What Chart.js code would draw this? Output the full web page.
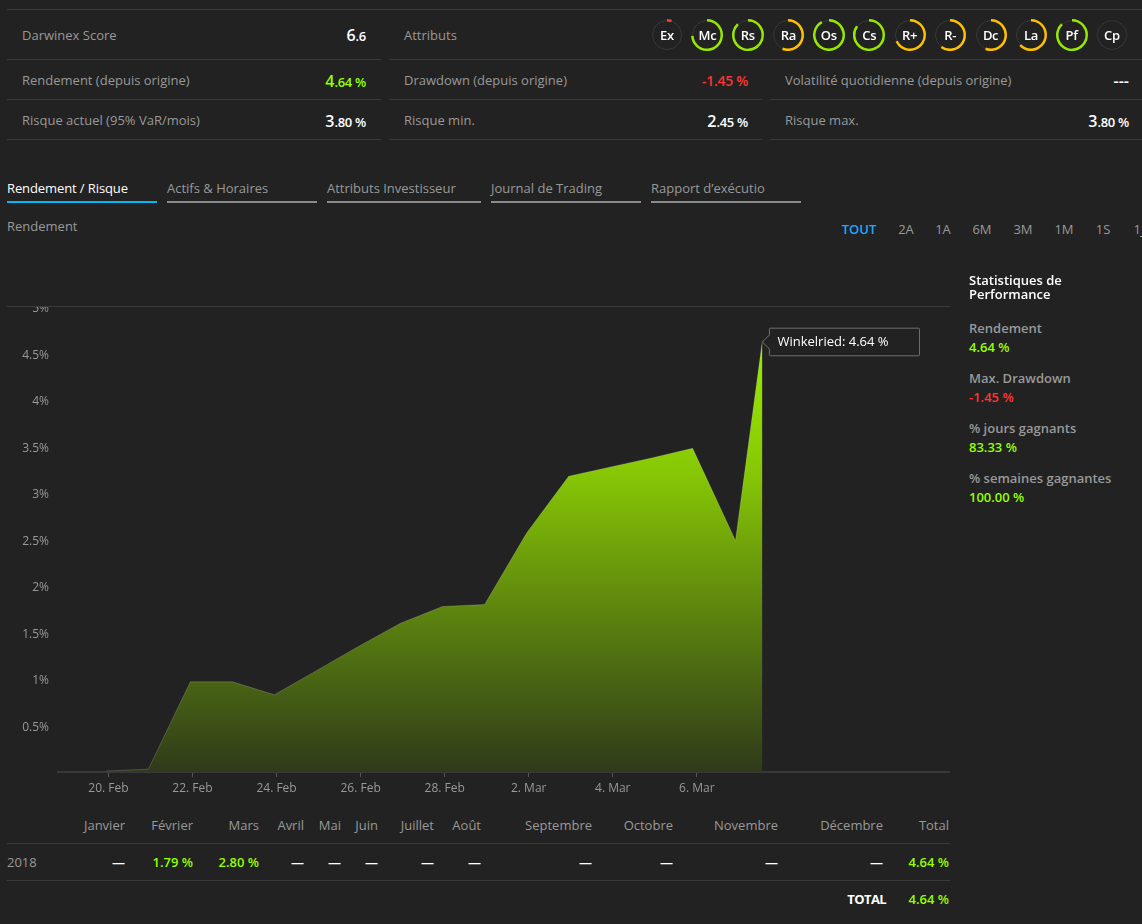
<!DOCTYPE html>
<html lang="fr">
<head>
<meta charset="utf-8">
<title>Darwinex - Winkelried</title>
<script src="https://cdn.jsdelivr.net/npm/chart.js@4"></script>
<style>
  html, body { margin: 0; padding: 0; background: #222222; overflow: hidden; }
  body { width: 1142px; height: 924px; position: relative; font-family: "Open Sans", sans-serif; font-size: 13px; color: #999999; }
  .t { position: absolute; white-space: nowrap; transform: translateY(-50%); line-height: 18px; }
  .r { transform: translate(-100%, -50%); }
  .c { transform: translate(-50%, -50%); }
  .rule { position: absolute; height: 1px; background: #3a3a3a; }
  .big { font-size: 16px; letter-spacing: 0; }
  .val { color: #ffffff; font-weight: 600; }
  .lime { color: #94ff00; font-weight: 600; }
  .red { color: #ff3333; font-weight: 600; }
  .tight { letter-spacing: -0.3px; }
  #cover { position: absolute; left: 0; top: 280px; width: 960px; height: 26px; background: #222222; }
  #returnWrap { position: absolute; left: 0; top: 290px; width: 950px; height: 510px; }
  .ring { position: absolute; width: 32px; height: 32px; }
  .ring i { position: absolute; left: 1px; top: 1px; width: 28px; height: 28px; border: 1px solid #383838; border-radius: 50%; }
  .ring canvas { position: absolute; left: 0; top: 0; }
  .ring b { position: absolute; left: 0; top: 0; width: 32px; line-height: 32px; text-align: center; color: #fff; font-weight: 600; font-size: 13px; letter-spacing: -0.3px; }
</style>
</head>
<body>
<div id="returnWrap"><canvas id="returnChart" width="950" height="510"></canvas></div>
<div id="cover"></div>
<script>
// Return curve, x is days counted from 20 Feb
const returnDays = [-0.05, 0.95, 1.95, 2.95, 3.95, 4.95, 5.95, 6.95, 7.95, 8.95, 9.95, 10.95, 11.95, 12.95, 13.9, 14.92, 15.56];
const returnValues = [0.01, 0.03, 0.97, 0.97, 0.83, 1.09, 1.35, 1.6, 1.78, 1.8, 2.57, 3.18, 3.28, 3.38, 3.48, 2.49, 4.64];
const xTickDays = [0, 2, 4, 6, 8, 10, 12, 14];
const xTickLabels = ["20. Feb", "22. Feb", "24. Feb", "26. Feb", "28. Feb", "2. Mar", "4. Mar", "6. Mar"];
const yTicks = [0.5, 1, 1.5, 2, 2.5, 3, 3.5, 4, 4.5, 5];

// Attribute rings
const attrNames = ["Ex", "Mc", "Rs", "Ra", "Os", "Cs", "R+", "R-", "Dc", "La", "Pf", "Cp"];
const attrScores = [0.05, 0.74, 0.88, 0.56, 0.92, 0.85, 0.68, 0.6, 0.56, 0.63, 0.88, 0];
const attrColors = ["#ff3b3b", "#97e800", "#97e800", "#ffc000", "#97e800", "#97e800", "#ffc000", "#ffc000", "#ffc000", "#ffc000", "#97e800", "#97e800"];

// Monthly table
const monthNames = ["Janvier", "Février", "Mars", "Avril", "Mai", "Juin", "Juillet", "Août", "Septembre", "Octobre", "Novembre", "Décembre", "Total"];
const monthValues2018 = [null, "1.79 %", "2.80 %", null, null, null, null, null, null, null, null, null, "4.64 %"];
const monthRightEdges = [125, 193, 259, 304, 341, 378, 434, 481, 592, 673, 778, 883, 949];

const rangeNames = ["TOUT", "2A", "1A", "6M", "3M", "1M", "1S", "1J"];
const rangeCenters = [859, 906, 943, 982, 1023, 1064, 1103, 1139];

const tabNames = ["Rendement / Risque", "Actifs & Horaires", "Attributs Investisseur", "Journal de Trading", "Rapport d’exécutio"];
const tabLefts = [7, 167, 327, 491, 651];
const tabWidths = [150, 150, 154, 150, 150];

function put(x, y, html, cls, style) {
  const el = document.createElement("div");
  el.className = "t " + (cls || "");
  el.style.left = x + "px";
  el.style.top = y + "px";
  if (style) el.style.cssText += style;
  el.innerHTML = html;
  document.body.appendChild(el);
}

function rule(x1, x2, y, color, thick) {
  const el = document.createElement("div");
  el.className = "rule";
  el.style.left = x1 + "px";
  el.style.width = x2 - x1 + "px";
  el.style.top = y + "px";
  if (color) el.style.background = color;
  if (thick) el.style.height = thick + "px";
  document.body.appendChild(el);
}

// Top summary block
rule(7, 1142, 9);
rule(7, 381, 59); rule(389, 1142, 59);
rule(7, 381, 99); rule(389, 762, 99); rule(770, 1142, 99);
rule(7, 381, 139); rule(389, 762, 139); rule(770, 1142, 139);

put(22, 35, "Darwinex Score");
put(366, 35, '<span class="big">6</span>.6', "r val tight");
put(404, 35, "Attributs");
put(22, 80, "Rendement (depuis origine)");
put(366, 81, '<span class="big">4</span>.64 %', "r lime tight");
put(404, 80, "Drawdown (depuis origine)");
put(748, 81, '-1.45 %', "r red", "font-size:14px;letter-spacing:-0.3px;");
put(785, 80, "Volatilité quotidienne (depuis origine)");
put(1129, 81, "---", "r val", "font-size:16px;");
put(22, 120, "Risque actuel (95% VaR/mois)");
put(366, 121, '<span class="big">3</span>.80 %', "r val tight");
put(404, 120, "Risque min.");
put(748, 121, '<span class="big">2</span>.45 %', "r val tight");
put(785, 120, "Risque max.");
put(1129, 121, '<span class="big">3</span>.80 %', "r val tight");

// Tabs
tabNames.forEach((name, i) => {
  const active = i === 0;
  put(tabLefts[i], 188, name, "", active ? "color:#fff;font-weight:500;letter-spacing:-0.1px;" : "");
  rule(tabLefts[i], tabLefts[i] + tabWidths[i], 201, active ? "#00b8f5" : "#8a8a8a", 2);
});
put(7, 226, "Rendement");
rangeNames.forEach((name, i) => {
  put(rangeCenters[i], 229, name, "c", i === 0 ? "color:#1fa9ff;font-weight:600;" : "");
});
rule(7, 950, 306);

// Side statistics
put(969, 287, "Statistiques de<br>Performance", "", "color:#fff;font-weight:600;line-height:14px;");
put(969, 328, "Rendement", "", "font-weight:600;");
put(969, 347, "4.64 %", "lime");
put(969, 378, "Max. Drawdown", "", "font-weight:600;");
put(969, 397, "-1.45 %", "red");
put(969, 428, "% jours gagnants", "", "font-weight:600;");
put(969, 447, "83.33 %", "lime");
put(969, 478, "% semaines gagnantes", "", "font-weight:600;");
put(969, 497, "100.00 %", "lime");

// Monthly table
monthNames.forEach((name, i) => {
  put(monthRightEdges[i], 825, name, "r");
  const v = monthValues2018[i];
  put(monthRightEdges[i], 862, v === null ? "—" : v, v === null ? "r val" : "r lime");
});
put(7, 862, "2018");
rule(7, 950, 843);
rule(7, 950, 880);
put(886, 899, "TOTAL", "r val", "font-weight:700;letter-spacing:-0.6px;");
put(949, 899, "4.64 %", "r lime");

// Attribute rings, one small doughnut each
attrNames.forEach((name, i) => {
  const box = document.createElement("div");
  box.className = "ring";
  box.style.left = 651 + i * 40.45 + "px";
  box.style.top = "19px";
  box.innerHTML = `<i></i><canvas width="32" height="32"></canvas><b>${name}</b>`;
  document.body.appendChild(box);
  new Chart(box.querySelector("canvas"), {
    type: "doughnut",
    data: {
      datasets: [{
        data: [attrScores[i], 1 - attrScores[i]],
        backgroundColor: [attrColors[i], "rgba(0,0,0,0)"],
        borderWidth: 0,
      }],
    },
    options: {
      responsive: false,
      animation: false,
      cutout: 13.5,
      layout: { padding: 0 },
      plugins: { legend: { display: false }, tooltip: { enabled: false } },
    },
  });
});

// Main return chart
const fillGradient = (context) => {
  const chart = context.chart;
  if (!chart.chartArea) return "#6a9a10";
  const top = chart.scales.y.getPixelForValue(Math.max(...returnValues));
  const g = chart.ctx.createLinearGradient(0, top, 0, chart.chartArea.bottom);
  g.addColorStop(0, "#99ec00");
  g.addColorStop(0.3, "#87c805");
  g.addColorStop(0.65, "#5a800f");
  g.addColorStop(1, "#2f3a1a");
  return g;
};

// Tooltip box sits slightly below the point in the original
Chart.Tooltip.positioners.pinned = (items) => {
  if (!items.length) return false;
  return { x: items[0].element.x, y: items[0].element.y + 1.5 };
};

const chart = new Chart(document.getElementById("returnChart"), {
  type: "line",
  data: {
    datasets: [{
      label: "Winkelried",
      data: returnDays.map((d, i) => ({ x: d, y: returnValues[i] })),
      borderColor: "rgba(255,255,255,0.18)",
      borderWidth: 1,
      backgroundColor: fillGradient,
      fill: "origin",
      pointRadius: 0,
      pointHoverRadius: 0,
      tension: 0,
    }],
  },
  options: {
    responsive: false,
    animation: false,
    events: [],
    layout: { padding: { top: 17, right: 1, bottom: 0, left: 0 } },
    scales: {
      x: {
        type: "linear",
        min: -1.2,
        max: 20,
        afterFit: (s) => { s.height = 28; s.paddingLeft = 0; s.paddingRight = 0; },
        afterBuildTicks: (s) => { s.ticks = xTickDays.map((v) => ({ value: v })); },
        grid: { drawOnChartArea: false, tickLength: 5, tickColor: "#555555" },
        border: { color: "#383838", width: 2 },
        ticks: {
          color: "#999999",
          font: { family: "Open Sans", size: 12 },
          padding: 4,
          autoSkip: false,
          maxRotation: 0,
          callback: (v) => xTickLabels[xTickDays.indexOf(v)],
        },
      },
      y: {
        min: 0,
        max: 5,
        afterFit: (s) => { s.width = 58; s.paddingTop = 0; s.paddingBottom = 0; },
        afterBuildTicks: (s) => { s.ticks = yTicks.map((v) => ({ value: v })); },
        grid: { display: false },
        border: { display: false },
        ticks: {
          color: "#999999",
          // empty first line with 4px leading pushes each label 2px below its tick
          font: { family: "Open Sans", size: 12, lineHeight: "4px" },
          padding: 1,
          callback: (v) => ["", v + "%"],
        },
      },
    },
    plugins: {
      legend: { display: false },
      tooltip: {
        enabled: true,
        position: "pinned",
        xAlign: "left",
        yAlign: "center",
        backgroundColor: "#222222",
        borderColor: "#707070",
        borderWidth: 1,
        cornerRadius: 1,
        caretSize: 7,
        caretPadding: 0,
        displayColors: false,
        padding: { left: 8, right: 31, top: 6, bottom: 6 },
        bodyColor: "#ffffff",
        bodyFont: { family: "Open Sans", size: 13, weight: "500" },
        callbacks: {
          title: () => "",
          label: (item) => item.dataset.label + ": " + item.parsed.y.toFixed(2) + " %",
        },
      },
    },
  },
});

// Tooltip stays pinned on the last point
const lastIndex = returnValues.length - 1;
chart.tooltip.setActiveElements([{ datasetIndex: 0, index: lastIndex }], { x: 0, y: 0 });
chart.update();
</script>
</body>
</html>
